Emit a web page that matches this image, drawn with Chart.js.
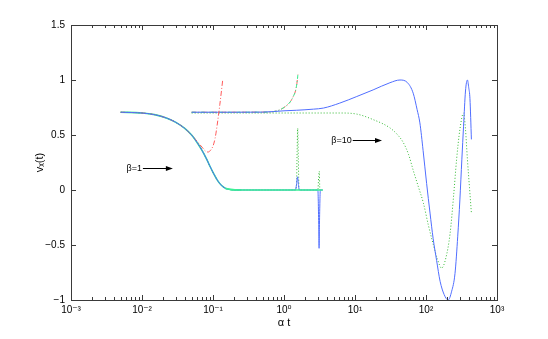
<!DOCTYPE html>
<html>
<head>
<meta charset="utf-8">
<script src="https://cdn.jsdelivr.net/npm/chart.js@4.4.1/dist/chart.umd.min.js"></script>
<style>
  html, body { margin: 0; padding: 0; background: #fff; }
</style>
</head>
<body>
<canvas id="chart" width="548" height="339"></canvas>
<script>
// beta = 1 runs, starting at alpha*t = 5e-3
const b1Time = [0.005, 0.01, 0.015, 0.022, 0.03, 0.04, 0.05, 0.06, 0.07, 0.08, 0.09, 0.1, 0.115, 0.13, 0.15, 0.18, 0.25];
const b1Decay = [0.707, 0.70, 0.685, 0.655, 0.615, 0.56, 0.50, 0.43, 0.36, 0.29, 0.22, 0.16, 0.09, 0.045, 0.015, 0.003, 0];

const b1BlueTailTime = [0.5, 1, 1.45, 1.5, 1.55, 1.6, 1.65, 2.9, 3.0, 3.08, 3.12, 3.16, 3.25, 3.5];
const b1BlueTail = [0, 0, 0, 0.05, 0.12, 0.04, 0, 0, 0, -0.3, -0.53, -0.3, 0, 0];

const b1GreenTailTime = [0.5, 1, 1.45, 1.5, 1.53, 1.56, 1.59, 1.63, 2.9, 3.0, 3.08, 3.14, 3.2, 3.5];
const b1GreenTail = [0, 0, 0, 0.05, 0.35, 0.56, 0.3, 0, 0, 0, 0.12, 0.17, 0, 0];

const b1MintTailTime = [0.15, 0.18, 0.25, 0.5, 3.5];
const b1MintTail = [0.015, 0.003, 0, 0, 0];

const b1RedTailTime = [0.06, 0.07, 0.078, 0.085, 0.092, 0.1, 0.107, 0.115, 0.125, 0.137];
const b1RedTail = [0.44, 0.39, 0.355, 0.345, 0.36, 0.40, 0.47, 0.6, 0.78, 1.0];

// beta = 10 runs, starting at alpha*t = 5e-2
const b10BlueTime = [0.05, 0.2, 0.5, 1, 1.5, 2.6, 3.6, 6.1, 10.6, 18, 31, 43, 55, 66, 75, 82, 91, 102, 114, 126, 141, 158, 180, 205, 230, 256, 280, 300, 320, 338, 360, 383, 400, 416, 436];
const b10Blue = [0.707, 0.707, 0.708, 0.72, 0.725, 0.735, 0.745, 0.79, 0.85, 0.91, 0.975, 1.0, 0.975, 0.88, 0.73, 0.61, 0.36, 0.06, -0.21, -0.44, -0.64, -0.83, -0.95, -1.0, -0.92, -0.76, -0.42, -0.09, 0.28, 0.58, 0.9, 1.0, 0.93, 0.83, 0.46];

const b10GreenTime = [0.05, 0.5, 1, 3, 6.1, 10.6, 18, 31, 40, 48, 57, 66, 78, 92, 108, 126, 145, 166, 190, 218, 245, 270, 300, 338, 360, 383, 410, 436];
const b10Green = [0.70, 0.70, 0.70, 0.70, 0.70, 0.69, 0.64, 0.565, 0.50, 0.43, 0.32, 0.18, 0.03, -0.12, -0.32, -0.49, -0.63, -0.71, -0.62, -0.40, -0.05, 0.28, 0.55, 0.70, 0.55, 0.28, 0.02, -0.21];

const b10RiseTime = [0.05, 0.5, 0.7, 0.88, 1.05, 1.22, 1.35, 1.45, 1.52, 1.57];
const b10Rise = [0.707, 0.708, 0.712, 0.73, 0.76, 0.80, 0.85, 0.9, 0.97, 1.05];

const yTicks = [-1, -0.5, 0, 0.5, 1, 1.5];
const xDecades = [-3, -2, -1, 0, 1, 2];

const BLUE = 'rgb(80,110,255)';
const GREEN = 'rgb(50,185,50)';
const RED = 'rgb(255,90,90)';
const MINT = 'rgb(60,240,150)';

const pts = (xs, ys) => xs.map((v, i) => ({ x: v, y: ys[i] }));

function series(points, color, dash, width) {
  return {
    data: points,
    borderColor: color,
    borderWidth: width || 1,
    borderDash: dash || [],
    pointRadius: 0,
    fill: false,
    cubicInterpolationMode: 'monotone'
  };
}

const supDigits = { '-': '\u207B', '0': '\u2070', '1': '\u00B9', '2': '\u00B2', '3': '\u00B3' };
const sup = n => String(n).split('').map(c => supDigits[c]).join('');

// MATLAB-like box with inward ticks plus the beta arrows
const matlabAxes = {
  id: 'matlabAxes',
  afterDraw(chart) {
    const { ctx, chartArea: a, scales: { x, y } } = chart;
    ctx.save();
    ctx.strokeStyle = '#3a3a3a';
    ctx.lineWidth = 1;
    ctx.beginPath();
    const xTick = (v, len) => {
      const px = Math.round(x.getPixelForValue(v)) + 0.5;
      ctx.moveTo(px, a.bottom); ctx.lineTo(px, a.bottom - len);
      ctx.moveTo(px, a.top); ctx.lineTo(px, a.top + len);
    };
    xDecades.forEach(e => {
      for (let k = 1; k <= 9; k++) xTick(k * Math.pow(10, e), k === 1 ? 5 : 3);
    });
    xTick(1000, 5);
    yTicks.forEach(v => {
      const py = Math.round(y.getPixelForValue(v)) + 0.5;
      ctx.moveTo(a.left, py); ctx.lineTo(a.left + 5, py);
      ctx.moveTo(a.right, py); ctx.lineTo(a.right - 5, py);
    });
    ctx.stroke();
    ctx.strokeRect(Math.round(a.left) + 0.5, Math.round(a.top) + 0.5,
      Math.round(a.right - a.left), Math.round(a.bottom - a.top));

    const arrow = (label, ax0, ax1, yv) => {
      const py = Math.round(y.getPixelForValue(yv)) + 0.5;
      const x0 = x.getPixelForValue(ax0), x1 = x.getPixelForValue(ax1);
      ctx.fillStyle = '#000';
      ctx.font = '9px "Liberation Sans", Arial, sans-serif';
      ctx.textBaseline = 'middle';
      ctx.textAlign = 'right';
      ctx.fillText(label, x0 - 1, py);
      ctx.strokeStyle = '#000';
      ctx.beginPath();
      ctx.moveTo(x0, py); ctx.lineTo(x1 - 5, py);
      ctx.stroke();
      ctx.beginPath();
      ctx.moveTo(x1, py);
      ctx.lineTo(x1 - 7, py - 2.5);
      ctx.lineTo(x1 - 7, py + 2.5);
      ctx.closePath();
      ctx.fill();
    };
    arrow('\u03B2=1', 0.0103, 0.0272, 0.2);
    arrow('\u03B2=10', 9.3, 24, 0.455);
    ctx.restore();
  }
};

Chart.defaults.font.family = '"Liberation Sans", Arial, "DejaVu Sans", sans-serif';
Chart.defaults.color = '#000';

new Chart(document.getElementById('chart'), {
  type: 'line',
  data: {
    datasets: [
      series(pts(b1MintTailTime, b1MintTail), MINT, [], 1.6),
      series(pts(b1Time, b1Decay).concat(pts(b1BlueTailTime, b1BlueTail)), BLUE),
      series(pts(b1Time, b1Decay).concat(pts(b1GreenTailTime, b1GreenTail)), GREEN, [1, 2]),
      series(pts(b1Time.slice(0, 7), b1Decay.slice(0, 7)).concat(pts(b1RedTailTime, b1RedTail)), RED, [5, 2, 1, 2]),
      series(pts(b1Time, b1Decay), MINT, [], 1.6),
      series(pts(b10BlueTime, b10Blue), BLUE),
      series(pts(b10GreenTime, b10Green), GREEN, [1, 2]),
      series(pts(b10RiseTime, b10Rise), MINT, [4, 2, 1, 2]),
      series(pts(b10RiseTime, b10Rise), RED, [5, 2, 1, 2])
    ]
  },
  options: {
    responsive: false,
    animation: false,
    layout: { padding: { left: 0, right: 51, top: 25, bottom: 0 } },
    plugins: { legend: { display: false }, tooltip: { enabled: false } },
    scales: {
      x: {
        type: 'logarithmic',
        min: 0.001,
        max: 1000,
        grid: { display: false, drawTicks: false },
        border: { display: false },
        afterFit: s => { s.height = 39; },
        ticks: {
          autoSkip: false,
          maxRotation: 0,
          padding: 4,
          font: { size: 10 },
          callback: v => {
            const lg = Math.log10(v);
            return Math.abs(lg - Math.round(lg)) < 1e-9 ? '10' + sup(Math.round(lg)) : '';
          }
        },
        title: { display: true, text: '\u03B1 t', font: { size: 11 }, padding: { top: 0, bottom: 9 } }
      },
      y: {
        min: -1,
        max: 1.5,
        grid: { display: false, drawTicks: false },
        border: { display: false },
        afterFit: s => { s.width = 71; },
        afterBuildTicks: s => { s.ticks = yTicks.map(v => ({ value: v })); },
        ticks: {
          padding: 6,
          font: { size: 10 },
          callback: v => (v < 0 ? '\u2212' + Math.abs(v) : String(v))
        },
        title: { display: true, text: 'v\u2093(t)', font: { size: 11 }, padding: { top: 33, bottom: 0 } }
      }
    }
  },
  plugins: [matlabAxes]
});
</script>
</body>
</html>
